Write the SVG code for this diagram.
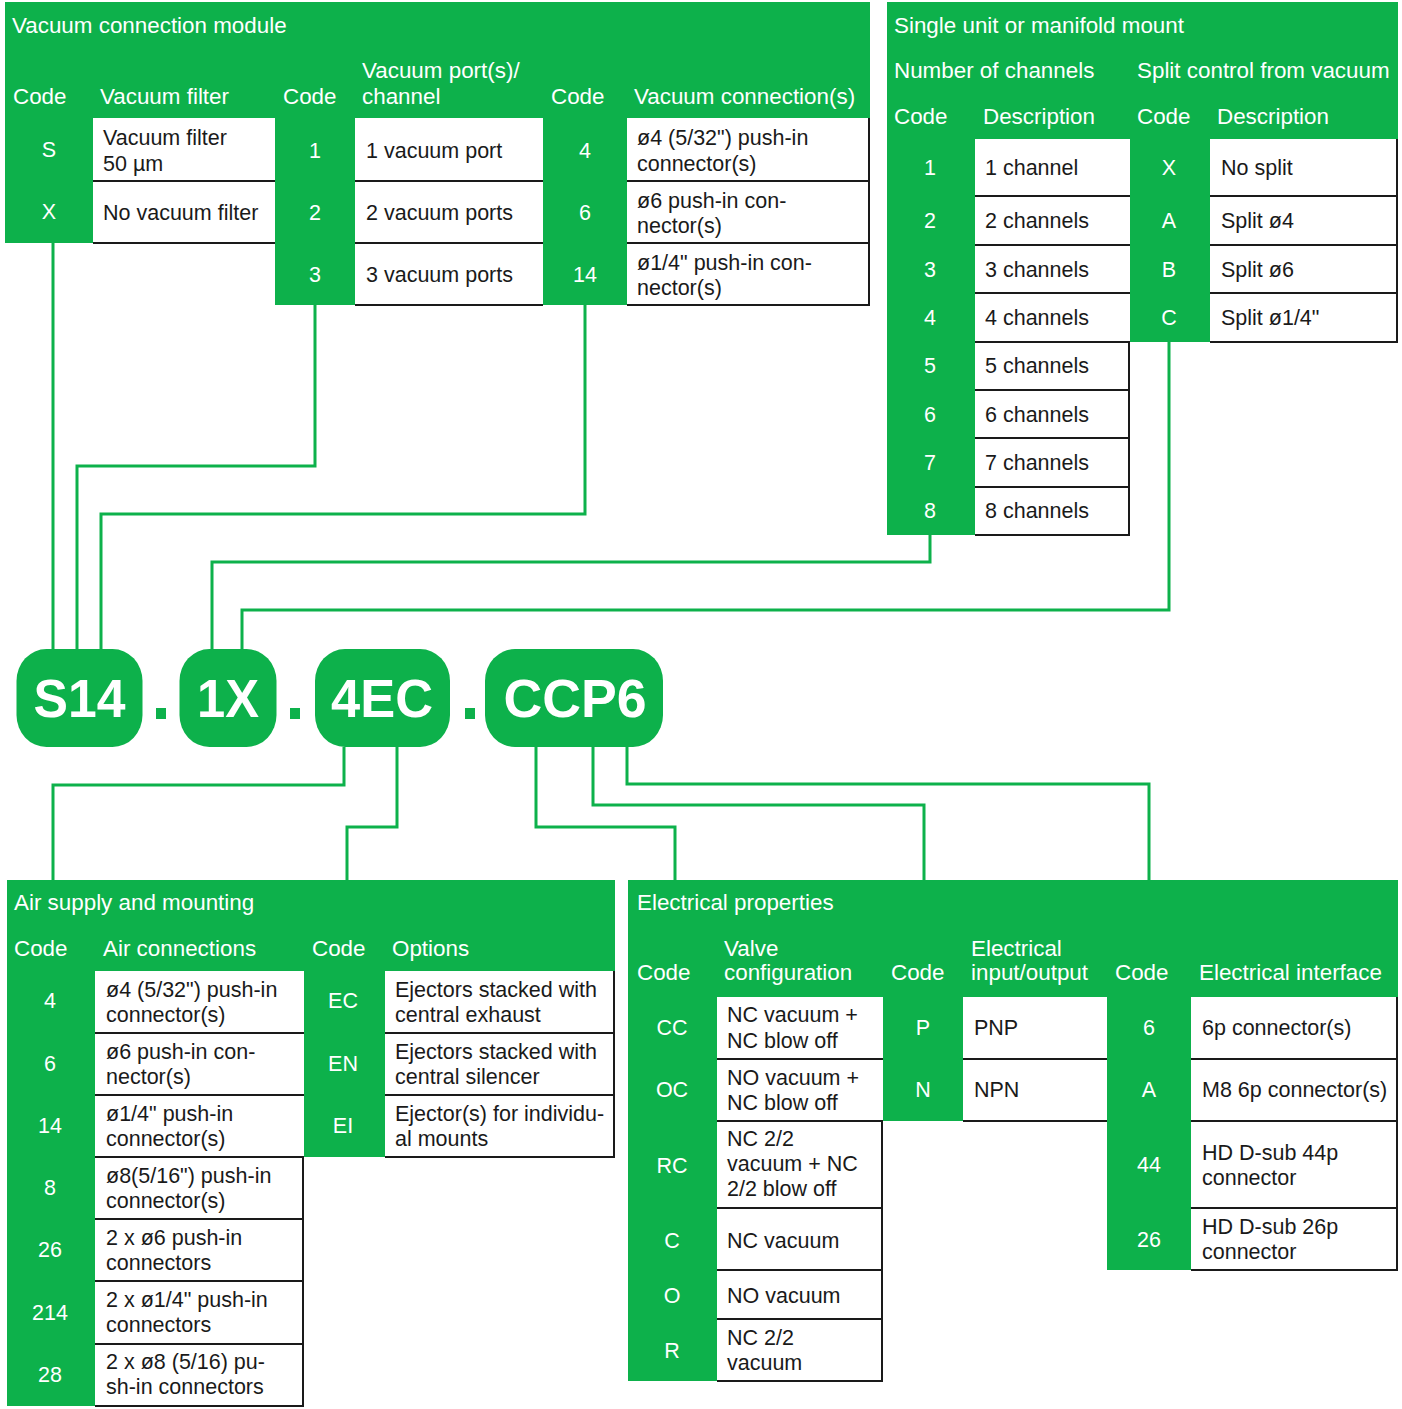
<svg xmlns="http://www.w3.org/2000/svg" width="1402" height="1409" viewBox="0 0 1402 1409">
  <style>
    .g { fill: #0db14b; }
    .ln { stroke: #1a1a1a; stroke-width: 2; fill: none; }
    .h { font-family: "Liberation Sans", Arial, sans-serif; font-size: 22.4px; fill: #ffffff; }
    .t { font-family: "Liberation Sans", Arial, sans-serif; font-size: 21.5px; fill: #1a1a1a; }
    .k { font-family: "Liberation Sans", Arial, sans-serif; font-size: 21.5px; fill: #ffffff; text-anchor: middle; }
    .conn { stroke: #0db14b; stroke-width: 3; fill: none; }
    .pill { fill: #0db14b; }
    .pt { font-family: "Liberation Sans", Arial, sans-serif; font-weight: bold; font-size: 54px; fill: #ffffff; text-anchor: middle; }
  </style>
  <rect width="1402" height="1409" fill="#ffffff"/>

  <!-- Vacuum connection module -->
  <g id="vacuum-connection-module">
    <rect class="g" x="5" y="2" width="865" height="116"/>
    <rect class="g" x="5" y="118" width="88" height="125"/>
    <rect class="g" x="275" y="118" width="80" height="187"/>
    <rect class="g" x="543" y="118" width="84" height="187"/>
    <path class="ln" d="M93,181H275M93,243H275M355,181H543M355,243H543M355,305H543M627,181H870M627,243H870M627,305H870M869,118V305"/>
    <text class="h" x="12" y="33">Vacuum connection module</text>
    <text class="h" x="13" y="104">Code</text>
    <text class="h" x="100" y="104">Vacuum filter</text>
    <text class="h" x="283" y="104">Code</text>
    <text class="h" x="362" y="78">Vacuum port(s)/</text>
    <text class="h" x="362" y="104">channel</text>
    <text class="h" x="551" y="104">Code</text>
    <text class="h" x="634" y="104">Vacuum connection(s)</text>
    <text class="k" x="49" y="157">S</text>
    <text class="k" x="49" y="219">X</text>
    <text class="k" x="315" y="158">1</text>
    <text class="k" x="315" y="220">2</text>
    <text class="k" x="315" y="282">3</text>
    <text class="k" x="585" y="158">4</text>
    <text class="k" x="585" y="220">6</text>
    <text class="k" x="585" y="282">14</text>
    <text class="t" x="103" y="145">Vacuum filter</text>
    <text class="t" x="103" y="171">50 µm</text>
    <text class="t" x="103" y="220">No vacuum filter</text>
    <text class="t" x="366" y="158">1 vacuum port</text>
    <text class="t" x="366" y="220">2 vacuum ports</text>
    <text class="t" x="366" y="282">3 vacuum ports</text>
    <text class="t" x="637" y="145">ø4 (5/32") push-in</text>
    <text class="t" x="637" y="171">connector(s)</text>
    <text class="t" x="637" y="208">ø6 push-in con-</text>
    <text class="t" x="637" y="233">nector(s)</text>
    <text class="t" x="637" y="270">ø1/4" push-in con-</text>
    <text class="t" x="637" y="295">nector(s)</text>
  </g>

  <!-- Single unit or manifold mount -->
  <g id="single-unit-manifold">
    <rect class="g" x="887" y="2" width="511" height="137"/>
    <rect class="g" x="887" y="139" width="88" height="396"/>
    <rect class="g" x="1130" y="139" width="80" height="203"/>
    <path class="ln" d="M975,196H1130M975,245H1130M975,293H1130M975,342H1130M975,390H1130M975,438H1130M975,487H1130M975,535H1130M1129,342V535M1210,196H1398M1210,245H1398M1210,293H1398M1210,342H1398M1397,139V342"/>
    <text class="h" x="894" y="33">Single unit or manifold mount</text>
    <text class="h" x="894" y="78">Number of channels</text>
    <text class="h" x="1137" y="78">Split control from vacuum</text>
    <text class="h" x="894" y="124">Code</text>
    <text class="h" x="983" y="124">Description</text>
    <text class="h" x="1137" y="124">Code</text>
    <text class="h" x="1217" y="124">Description</text>
    <text class="k" x="930" y="175">1</text>
    <text class="k" x="930" y="228">2</text>
    <text class="k" x="930" y="277">3</text>
    <text class="k" x="930" y="325">4</text>
    <text class="k" x="930" y="373">5</text>
    <text class="k" x="930" y="422">6</text>
    <text class="k" x="930" y="470">7</text>
    <text class="k" x="930" y="518">8</text>
    <text class="t" x="985" y="175">1 channel</text>
    <text class="t" x="985" y="228">2 channels</text>
    <text class="t" x="985" y="277">3 channels</text>
    <text class="t" x="985" y="325">4 channels</text>
    <text class="t" x="985" y="373">5 channels</text>
    <text class="t" x="985" y="422">6 channels</text>
    <text class="t" x="985" y="470">7 channels</text>
    <text class="t" x="985" y="518">8 channels</text>
    <text class="k" x="1169" y="175">X</text>
    <text class="k" x="1169" y="228">A</text>
    <text class="k" x="1169" y="277">B</text>
    <text class="k" x="1169" y="325">C</text>
    <text class="t" x="1221" y="175">No split</text>
    <text class="t" x="1221" y="228">Split ø4</text>
    <text class="t" x="1221" y="277">Split ø6</text>
    <text class="t" x="1221" y="325">Split ø1/4"</text>
  </g>

  <!-- Order code -->
  <g id="order-code">
    <rect class="pill" x="16.5" y="649" width="126" height="98" rx="30" ry="32"/>
    <text class="pt" x="79.5" y="717" textLength="92" lengthAdjust="spacingAndGlyphs">S14</text>
    <rect class="pill" x="156" y="708" width="10" height="11"/>
    <rect class="pill" x="179.5" y="649" width="97" height="98" rx="30" ry="32"/>
    <text class="pt" x="228" y="717" textLength="62" lengthAdjust="spacingAndGlyphs">1X</text>
    <rect class="pill" x="290" y="708" width="10" height="11"/>
    <rect class="pill" x="315" y="649" width="135" height="98" rx="30" ry="32"/>
    <text class="pt" x="382" y="717" textLength="102" lengthAdjust="spacingAndGlyphs">4EC</text>
    <rect class="pill" x="465" y="708" width="10" height="11"/>
    <rect class="pill" x="485" y="649" width="178" height="98" rx="30" ry="32"/>
    <text class="pt" x="575" y="717" textLength="143" lengthAdjust="spacingAndGlyphs">CCP6</text>
  </g>

  <!-- Air supply and mounting -->
  <g id="air-supply-mounting">
    <rect class="g" x="7" y="880" width="608" height="91"/>
    <rect class="g" x="7" y="971" width="88" height="435"/>
    <rect class="g" x="304" y="971" width="81" height="186"/>
    <path class="ln" d="M95,1033H304M95,1095H304M95,1157H304M95,1219H304M95,1281H304M95,1344H304M95,1406H304M303,1157V1406M385,1033H615M385,1095H615M385,1157H615M614,971V1157"/>
    <text class="h" x="14" y="910">Air supply and mounting</text>
    <text class="h" x="14" y="956">Code</text>
    <text class="h" x="103" y="956">Air connections</text>
    <text class="h" x="312" y="956">Code</text>
    <text class="h" x="392" y="956">Options</text>
    <text class="k" x="50" y="1008">4</text>
    <text class="k" x="50" y="1071">6</text>
    <text class="k" x="50" y="1133">14</text>
    <text class="k" x="50" y="1195">8</text>
    <text class="k" x="50" y="1257">26</text>
    <text class="k" x="50" y="1320">214</text>
    <text class="k" x="50" y="1382">28</text>
    <text class="t" x="106" y="997">ø4 (5/32") push-in</text>
    <text class="t" x="106" y="1022">connector(s)</text>
    <text class="t" x="106" y="1059">ø6 push-in con-</text>
    <text class="t" x="106" y="1084">nector(s)</text>
    <text class="t" x="106" y="1121">ø1/4" push-in</text>
    <text class="t" x="106" y="1146">connector(s)</text>
    <text class="t" x="106" y="1183">ø8(5/16") push-in</text>
    <text class="t" x="106" y="1208">connector(s)</text>
    <text class="t" x="106" y="1245">2 x ø6 push-in</text>
    <text class="t" x="106" y="1270">connectors</text>
    <text class="t" x="106" y="1307">2 x ø1/4" push-in</text>
    <text class="t" x="106" y="1332">connectors</text>
    <text class="t" x="106" y="1369">2 x ø8 (5/16) pu-</text>
    <text class="t" x="106" y="1394">sh-in connectors</text>
    <text class="k" x="343" y="1008">EC</text>
    <text class="k" x="343" y="1071">EN</text>
    <text class="k" x="343" y="1133">EI</text>
    <text class="t" x="395" y="997">Ejectors stacked with</text>
    <text class="t" x="395" y="1022">central exhaust</text>
    <text class="t" x="395" y="1059">Ejectors stacked with</text>
    <text class="t" x="395" y="1084">central silencer</text>
    <text class="t" x="395" y="1121">Ejector(s) for individu-</text>
    <text class="t" x="395" y="1146">al mounts</text>
  </g>

  <!-- Electrical properties -->
  <g id="electrical-properties">
    <rect class="g" x="628" y="880" width="770" height="117"/>
    <rect class="g" x="628" y="997" width="89" height="384"/>
    <rect class="g" x="883" y="997" width="80" height="124"/>
    <rect class="g" x="1107" y="997" width="84" height="273"/>
    <path class="ln" d="M717,1059H883M717,1121H883M717,1208H883M717,1270H883M717,1319H883M717,1381H883M882,1121V1381M963,1059H1107M963,1121H1107M1191,1059H1398M1191,1121H1398M1191,1208H1398M1191,1270H1398M1397,997V1270"/>
    <text class="h" x="637" y="910">Electrical properties</text>
    <text class="h" x="637" y="980">Code</text>
    <text class="h" x="724" y="956">Valve</text>
    <text class="h" x="724" y="980">configuration</text>
    <text class="h" x="891" y="980">Code</text>
    <text class="h" x="971" y="956">Electrical</text>
    <text class="h" x="971" y="980">input/output</text>
    <text class="h" x="1115" y="980">Code</text>
    <text class="h" x="1199" y="980">Electrical interface</text>
    <text class="k" x="672" y="1035">CC</text>
    <text class="k" x="672" y="1097">OC</text>
    <text class="k" x="672" y="1173">RC</text>
    <text class="k" x="672" y="1248">C</text>
    <text class="k" x="672" y="1303">O</text>
    <text class="k" x="672" y="1358">R</text>
    <text class="t" x="727" y="1022">NC vacuum +</text>
    <text class="t" x="727" y="1048">NC blow off</text>
    <text class="t" x="727" y="1085">NO vacuum +</text>
    <text class="t" x="727" y="1110">NC blow off</text>
    <text class="t" x="727" y="1146">NC 2/2</text>
    <text class="t" x="727" y="1171">vacuum + NC</text>
    <text class="t" x="727" y="1196">2/2 blow off</text>
    <text class="t" x="727" y="1248">NC vacuum</text>
    <text class="t" x="727" y="1303">NO vacuum</text>
    <text class="t" x="727" y="1345">NC 2/2</text>
    <text class="t" x="727" y="1370">vacuum</text>
    <text class="k" x="923" y="1035">P</text>
    <text class="k" x="923" y="1097">N</text>
    <text class="t" x="974" y="1035">PNP</text>
    <text class="t" x="974" y="1097">NPN</text>
    <text class="k" x="1149" y="1035">6</text>
    <text class="k" x="1149" y="1097">A</text>
    <text class="k" x="1149" y="1172">44</text>
    <text class="k" x="1149" y="1247">26</text>
    <text class="t" x="1202" y="1035">6p connector(s)</text>
    <text class="t" x="1202" y="1097">M8 6p connector(s)</text>
    <text class="t" x="1202" y="1160">HD D-sub 44p</text>
    <text class="t" x="1202" y="1185">connector</text>
    <text class="t" x="1202" y="1234">HD D-sub 26p</text>
    <text class="t" x="1202" y="1259">connector</text>
  </g>

  <!-- Connectors -->
  <g id="connectors">
    <path class="conn" d="M53,243V649"/>
    <path class="conn" d="M315,305V466H77V649"/>
    <path class="conn" d="M585,305V514H101V649"/>
    <path class="conn" d="M930,535V562H212V649"/>
    <path class="conn" d="M1169,342V610H242V649"/>
    <path class="conn" d="M344,747V785H53V880"/>
    <path class="conn" d="M397,747V827H347V880"/>
    <path class="conn" d="M536,747V827H675V880"/>
    <path class="conn" d="M593,747V805H924V880"/>
    <path class="conn" d="M627,747V784H1149V880"/>
  </g>
</svg>
